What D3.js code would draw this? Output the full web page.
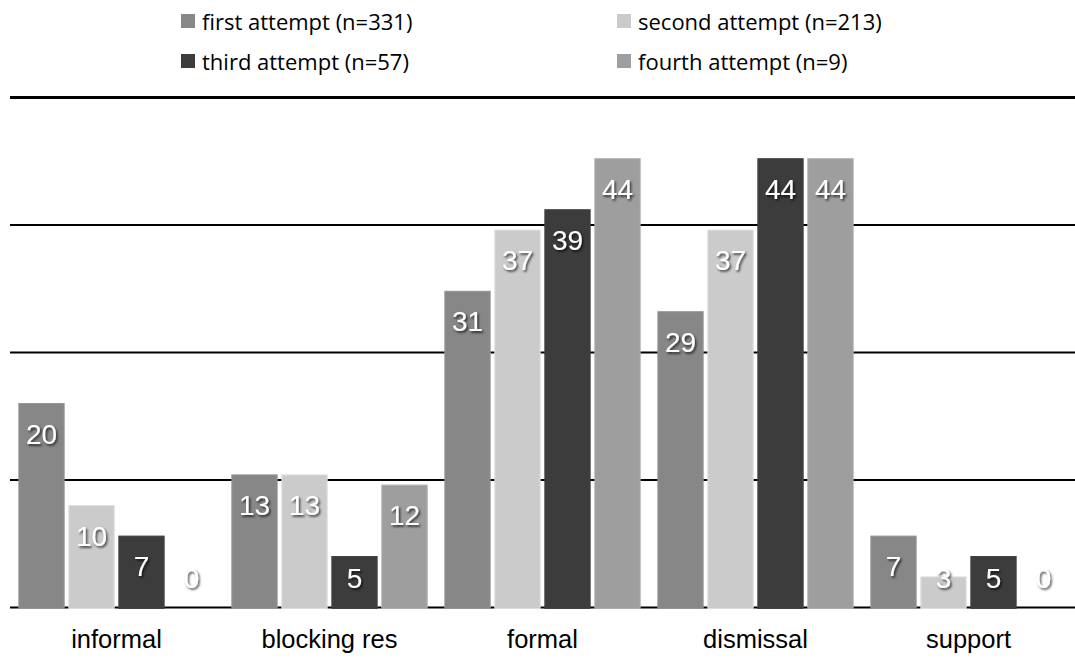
<!DOCTYPE html>
<html>
<head>
    <meta charset="utf-8">
    <title>attempts</title>
    <script src="https://cdn.jsdelivr.net/npm/d3@7"></script>
    <style>
        html, body {
            margin: 0;
            padding: 0;
            background-color: #ffffff;
        }
    </style>
</head>
<body>
    <script type="text/javascript">
        // 数据
        var categories = ["informal", "blocking res", "formal", "dismissal", "support"];
        var series = ["first attempt (n=331)", "second attempt (n=213)", "third attempt (n=57)", "fourth attempt (n=9)"];
        var first = [20, 13, 31, 29, 7];
        var second = [10, 13, 37, 37, 3];
        var third = [7, 5, 39, 44, 5];
        var fourth = [0, 12, 44, 44, 0];
        var gridTicks = [0, 12.5, 25, 37.5, 50];
        var colors = ["#878787", "#cbcbcb", "#3c3c3c", "#9e9e9e"];

        var width = 1075;
        var height = 659;
        var values = [first, second, third, fourth];

        var svg = d3.select("body")
            .append("svg")
            .attr("width", width)
            .attr("height", height);

        // 阴影
        var defs = svg.append("defs");
        defs.append("filter")
            .attr("id", "shadow")
            .attr("x", "-30%").attr("y", "-30%")
            .attr("width", "160%").attr("height", "160%")
            .append("feDropShadow")
            .attr("dx", 1.5)
            .attr("dy", 1.8)
            .attr("stdDeviation", 1.1)
            .attr("flood-color", "#000")
            .attr("flood-opacity", 0.7);

        var x0 = d3.scaleBand()
            .domain(categories)
            .range([10, 1075])
            .padding(0);

        var x1 = d3.scaleBand()
            .domain(d3.range(series.length))
            .range([0, x0.bandwidth()])
            .paddingInner(0.094)
            .paddingOuter(0.177);

        var y = d3.scaleLinear()
            .domain([0, 50])
            .range([607.5, 97.5]);

        // 网格线
        svg.selectAll(".grid")
            .data(gridTicks)
            .enter()
            .append("line")
            .attr("class", "grid")
            .attr("x1", 10)
            .attr("x2", width)
            .attr("y1", d => y(d))
            .attr("y2", d => y(d))
            .style("stroke", "#000")
            .style("stroke-width", d => d == 50 ? 3 : 2);

        var rows = [];
        categories.forEach(function (c, i) {
            values.forEach(function (s, j) {
                rows.push({ cat: c, s: j, v: s[i] });
            });
        });

        // 柱子
        svg.selectAll(".bar")
            .data(rows)
            .enter()
            .append("rect")
            .attr("class", "bar")
            .attr("x", d => x0(d.cat) + x1(d.s))
            .attr("y", d => y(d.v))
            .attr("width", x1.bandwidth())
            .attr("height", d => d.v > 0 ? y(0) - y(d.v) + 1 : 0)
            .style("fill", d => colors[d.s])
            .style("stroke", d => d3.color(colors[d.s]).brighter(0.25))
            .style("stroke-width", 1);

        // 数值标签
        svg.selectAll(".val")
            .data(rows)
            .enter()
            .append("text")
            .attr("class", "val")
            .attr("x", d => x0(d.cat) + x1(d.s) + x1.bandwidth() / 2)
            .attr("y", d => Math.min(y(d.v) + 40, 588))
            .attr("text-anchor", "middle")
            .attr("filter", "url(#shadow)")
            .style("font-family", "'Liberation Sans', Arial, sans-serif")
            .style("font-size", "28px")
            .style("fill", "#ffffff")
            .text(d => d.v);

        // 类别标签
        svg.selectAll(".cat")
            .data(categories)
            .enter()
            .append("text")
            .attr("class", "cat")
            .attr("x", d => x0(d) + x0.bandwidth() / 2)
            .attr("y", 648)
            .attr("text-anchor", "middle")
            .style("font-family", "'Liberation Sans', Arial, sans-serif")
            .style("font-size", "25.5px")
            .style("fill", "#000")
            .text(d => d);

        // 图例
        var legendPos = [[181, 21], [617, 21], [181, 61], [617, 61]];
        var legend = svg.selectAll(".legend")
            .data(series)
            .enter()
            .append("g")
            .attr("class", "legend")
            .attr("transform", (d, i) => "translate(" + legendPos[i][0] + "," + legendPos[i][1] + ")");

        legend.append("rect")
            .attr("x", 0)
            .attr("y", -7)
            .attr("width", 14)
            .attr("height", 14)
            .style("fill", (d, i) => colors[i]);

        legend.append("text")
            .attr("x", 21)
            .attr("y", 8.5)
            .style("font-family", "'Open Sans', sans-serif")
            .style("font-size", "22px")
            .style("fill", "#000")
            .text(d => d);
    </script>
</body>
</html>
